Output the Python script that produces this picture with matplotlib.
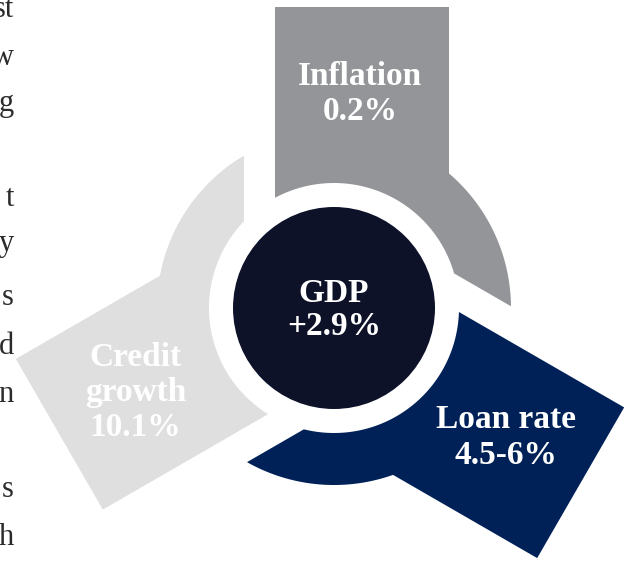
import numpy as np
import matplotlib.pyplot as plt
from matplotlib.patches import Polygon, Circle

# three drivers around the central GDP figure, clockwise from the top
labels = ['Inflation\n0.2%', 'Loan rate\n4.5-6%', 'Credit\ngrowth\n10.1%']
colors = ['#939598', '#002157', '#dfdfdf']
center_label = 'GDP\n+2.9%'
center_color = '#0d1229'

# right-hand ends of the neighbouring text column
side_words = ['st', 'w', 'g', 't', 'y', 's', 'd', 'n', 's', 'h']
side_baselines = [17, 65, 111, 206, 251, 305, 354, 402, 497, 545]

W, H = 634, 563
cx, cy = 334, 308          # centre of the wheel (pixels)
r_core = 101               # dark centre disc
r_in, r_out = 125, 177     # ring band
box_l, box_r, box_t = -59, 115, 301   # head box, in the arrow's own frame
cut = -90                  # tail cut, measured in the next arrow's frame
label_pos = (26, 214)


def rot(pts, deg):
    a = np.deg2rad(deg)
    c, s = np.cos(a), np.sin(a)
    pts = np.asarray(pts)
    return np.column_stack([pts[:, 0] * c - pts[:, 1] * s,
                            pts[:, 0] * s + pts[:, 1] * c])


def arrow_outline():
    # frame with the head pointing straight up, y up, origin at the centre
    pts = [(box_l, box_t), (box_r, box_t)]
    a0 = np.arctan2(np.sqrt(r_out**2 - box_r**2), box_r)
    a1 = np.deg2rad(-120) + np.arccos(cut / r_out)
    for a in np.linspace(a0, a1, 80):
        pts.append((r_out * np.cos(a), r_out * np.sin(a)))
    a2 = np.deg2rad(-120) + np.arccos(cut / r_in)
    a3 = np.arctan2(np.sqrt(r_in**2 - box_l**2), box_l)
    for a in np.linspace(a2, a3, 80):
        pts.append((r_in * np.cos(a), r_in * np.sin(a)))
    return np.array(pts)


def to_px(pts):
    return np.column_stack([cx + pts[:, 0], cy - pts[:, 1]])


fig = plt.figure(figsize=(W / 100, H / 100), dpi=100)
ax = fig.add_axes([0, 0, 1, 1])
ax.set_xlim(0, W)
ax.set_ylim(H, 0)
ax.axis('off')

base = arrow_outline()
for k, (lab, col) in enumerate(zip(labels, colors)):
    ang = -120 * k
    ax.add_patch(Polygon(to_px(rot(base, ang)), closed=True, facecolor=col,
                         edgecolor='none'))
    tx, ty = to_px(rot([label_pos], ang))[0]
    ax.text(tx, ty, lab, ha='center', va='center', color='white',
            fontsize=24, fontweight='bold', family='Liberation Serif',
            linespacing=1.15 if k == 2 else 1.2)

ax.add_patch(Circle((cx, cy), r_core, facecolor=center_color, edgecolor='none'))
ax.text(cx, cy + 2, center_label, ha='center', va='center', color='white',
        fontsize=24, fontweight='bold', family='Liberation Serif', linespacing=1.1)

for word, yb in zip(side_words, side_baselines):
    ax.text(14, yb, word, ha='right', va='baseline', color='#2b2b2b',
            fontsize=22, family='Liberation Serif')

fig.savefig('out.png', dpi=100)
